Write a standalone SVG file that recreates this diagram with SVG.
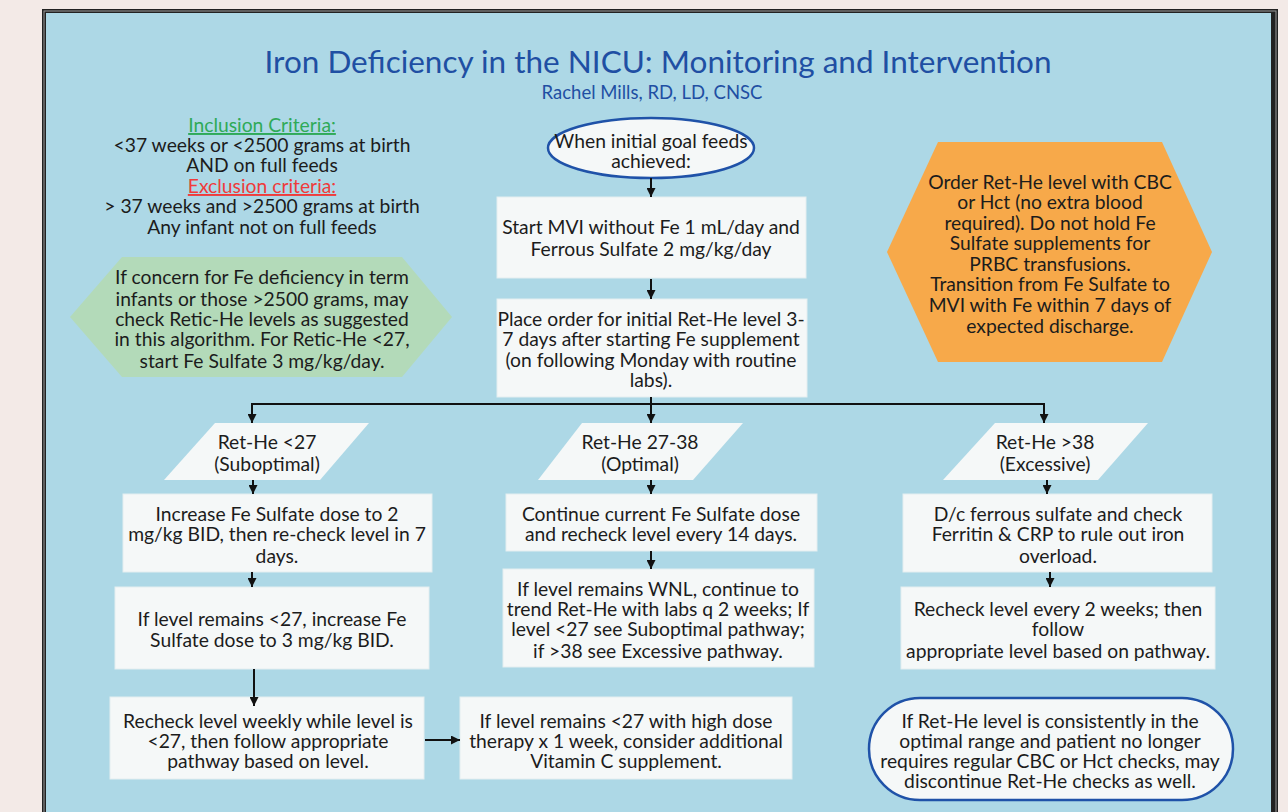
<svg xmlns="http://www.w3.org/2000/svg" width="1288" height="812" viewBox="0 0 1288 812">
<style>
text{font-family:Lato,"Liberation Sans",sans-serif;font-size:19.3px;fill:#1c1c1c;text-anchor:middle}
.title{font-size:31.5px;fill:#1f4fa3}
.sub{font-size:18.5px;fill:#1f4fa3}
.inc{fill:#2faa58;text-decoration:underline}
.exc{fill:#ef3b3b;text-decoration:underline}
.box{fill:#f5f8f8;stroke:#e4eef0;stroke-width:1}
.para{fill:#f5f8f8}
.oval{fill:#f5f8f8;stroke:#1f52a8;stroke-width:2.5}
.conn{fill:none;stroke:#111;stroke-width:2}
</style>
<defs>
<marker id="ah" markerUnits="userSpaceOnUse" markerWidth="10" markerHeight="9" refX="9" refY="4.5" orient="auto">
<path d="M0,0 L9,4.5 L0,9 z" fill="#111"/>
</marker>
</defs>
<rect x="0" y="0" width="1288" height="812" fill="#f3eae7"/>
<rect x="42" y="9" width="1236" height="810" fill="#222"/>
<rect x="43.5" y="10.5" width="1233" height="810" fill="#9a9a9a"/>
<rect x="44.5" y="11.5" width="1231" height="810" fill="#222"/>
<rect x="46" y="13" width="1225" height="810" fill="#add8e6"/>

<g id="title">
<text class="title" x="658" y="73">Iron Deficiency in the NICU: Monitoring and Intervention</text>
<text class="sub" x="652" y="98.5">Rachel Mills, RD, LD, CNSC</text>
</g>

<g id="criteria">
<text><tspan class="inc" x="262" y="132">Inclusion Criteria:</tspan><tspan x="262" y="152">&lt;37 weeks or &lt;2500 grams at birth</tspan><tspan x="262" y="172">AND on full feeds</tspan><tspan class="exc" x="262" y="193">Exclusion criteria:</tspan><tspan x="262" y="213">&gt; 37 weeks and &gt;2500 grams at birth</tspan><tspan x="262" y="234">Any infant not on full feeds</tspan></text>
</g>

<g id="term-note">
<polygon points="70,317 122,257 402,257 452,317 402,377 122,377" fill="#b3dab9"/>
<text><tspan x="262" y="284">If concern for Fe deficiency in term</tspan><tspan x="262" y="306">infants or those &gt;2500 grams, may</tspan><tspan x="262" y="326">check Retic-He levels as suggested</tspan><tspan x="262" y="346">in this algorithm. For Retic-He &lt;27,</tspan><tspan x="262" y="368">start Fe Sulfate 3 mg/kg/day.</tspan></text>
</g>

<g id="start">
<ellipse class="oval" cx="651" cy="148" rx="103" ry="30"/>
<text><tspan x="651" y="148">When initial goal feeds</tspan><tspan x="651" y="168">achieved:</tspan></text>
</g>

<g id="start-mvi">
<rect class="box" x="497" y="197" width="309" height="81"/>
<text><tspan x="651" y="234">Start MVI without Fe 1 mL/day and</tspan><tspan x="651" y="256">Ferrous Sulfate 2 mg/kg/day</tspan></text>
</g>

<g id="order-rethe">
<rect class="box" x="497" y="299" width="310" height="98"/>
<text><tspan x="651" y="326">Place order for initial Ret-He level 3-</tspan><tspan x="651" y="346">7 days after starting Fe supplement</tspan><tspan x="651" y="367">(on following Monday with routine</tspan><tspan x="651" y="387">labs).</tspan></text>
</g>

<g id="orange-note">
<polygon points="887,252 938,142 1162,142 1212,252 1162,362 938,362" fill="#f7a94a"/>
<text><tspan x="1050" y="189">Order Ret-He level with CBC</tspan><tspan x="1050" y="209">or Hct (no extra blood</tspan><tspan x="1050" y="230">required). Do not hold Fe</tspan><tspan x="1050" y="250">Sulfate supplements for</tspan><tspan x="1050" y="271">PRBC transfusions.</tspan><tspan x="1050" y="291">Transition from Fe Sulfate to</tspan><tspan x="1050" y="312">MVI with Fe within 7 days of</tspan><tspan x="1050" y="333">expected discharge.</tspan></text>
</g>

<g id="suboptimal">
<polygon class="para" points="215,423 369,423 320,480 164,480"/>
<text><tspan x="267" y="449">Ret-He &lt;27</tspan><tspan x="267" y="471">(Suboptimal)</tspan></text>
</g>

<g id="optimal">
<polygon class="para" points="582,423 743,423 693,480 538,480"/>
<text><tspan x="640" y="449">Ret-He 27-38</tspan><tspan x="640" y="471">(Optimal)</tspan></text>
</g>

<g id="excessive">
<polygon class="para" points="995,423 1148,423 1098,480 943,480"/>
<text><tspan x="1045" y="449">Ret-He &gt;38</tspan><tspan x="1045" y="471">(Excessive)</tspan></text>
</g>

<g id="sub-increase">
<rect class="box" x="123" y="494" width="309" height="78"/>
<text><tspan x="277" y="521">Increase Fe Sulfate dose to 2</tspan><tspan x="277" y="541">mg/kg BID, then re-check level in 7</tspan><tspan x="277" y="563">days.</tspan></text>
</g>

<g id="sub-increase2">
<rect class="box" x="115" y="587" width="314" height="82"/>
<text><tspan x="272" y="626">If level remains &lt;27, increase Fe</tspan><tspan x="272" y="647">Sulfate dose to 3 mg/kg BID.</tspan></text>
</g>

<g id="sub-weekly">
<rect class="box" x="110" y="697" width="314" height="82"/>
<text><tspan x="268" y="728">Recheck level weekly while level is</tspan><tspan x="268" y="748">&lt;27, then follow appropriate</tspan><tspan x="268" y="768">pathway based on level.</tspan></text>
</g>

<g id="sub-vitc">
<rect class="box" x="460" y="697" width="332" height="82"/>
<text><tspan x="626" y="728">If level remains &lt;27 with high dose</tspan><tspan x="626" y="748">therapy x 1 week, consider additional</tspan><tspan x="626" y="768">Vitamin C supplement.</tspan></text>
</g>

<g id="opt-continue">
<rect class="box" x="506" y="494" width="311" height="57"/>
<text><tspan x="661" y="521">Continue current Fe Sulfate dose</tspan><tspan x="661" y="541">and recheck level every 14 days.</tspan></text>
</g>

<g id="opt-wnl">
<rect class="box" x="503" y="569" width="311" height="98"/>
<text><tspan x="658" y="596">If level remains WNL, continue to</tspan><tspan x="658" y="616">trend Ret-He with labs q 2 weeks; If</tspan><tspan x="658" y="636">level &lt;27 see Suboptimal pathway;</tspan><tspan x="658" y="658">if &gt;38 see Excessive pathway.</tspan></text>
</g>

<g id="exc-dc">
<rect class="box" x="903" y="494" width="309" height="78"/>
<text><tspan x="1058" y="521">D/c ferrous sulfate and check</tspan><tspan x="1058" y="541">Ferritin &amp; CRP to rule out iron</tspan><tspan x="1058" y="563">overload.</tspan></text>
</g>

<g id="exc-recheck">
<rect class="box" x="901" y="587" width="314" height="82"/>
<text><tspan x="1058" y="616">Recheck level every 2 weeks; then</tspan><tspan x="1058" y="636">follow</tspan><tspan x="1058" y="658">appropriate level based on pathway.</tspan></text>
</g>

<g id="discontinue">
<rect class="oval" x="869" y="698" width="364" height="102" rx="51" ry="51"/>
<text><tspan x="1050" y="728">If Ret-He level is consistently in the</tspan><tspan x="1050" y="748">optimal range and patient no longer</tspan><tspan x="1050" y="768">requires regular CBC or Hct checks, may</tspan><tspan x="1050" y="788">discontinue Ret-He checks as well.</tspan></text>
</g>

<g id="connectors">
<path class="conn" d="M651,178 V197" marker-end="url(#ah)"/>
<path class="conn" d="M651,279 V299" marker-end="url(#ah)"/>
<path class="conn" d="M651,397 V404 H252 V423" marker-end="url(#ah)"/>
<path class="conn" d="M651,404 H1044 V423" marker-end="url(#ah)"/>
<path class="conn" d="M651,404 V423" marker-end="url(#ah)"/>
<path class="conn" d="M253,480 V494" marker-end="url(#ah)"/>
<path class="conn" d="M651,480 V494" marker-end="url(#ah)"/>
<path class="conn" d="M1047,480 V494" marker-end="url(#ah)"/>
<path class="conn" d="M252,572 V587" marker-end="url(#ah)"/>
<path class="conn" d="M651,551 V569" marker-end="url(#ah)"/>
<path class="conn" d="M1050,572 V587" marker-end="url(#ah)"/>
<path class="conn" d="M254,669 V706" marker-end="url(#ah)"/>
<path class="conn" d="M425,740 H460" stroke-width="3" marker-end="url(#ah)"/>
</g>
</svg>
